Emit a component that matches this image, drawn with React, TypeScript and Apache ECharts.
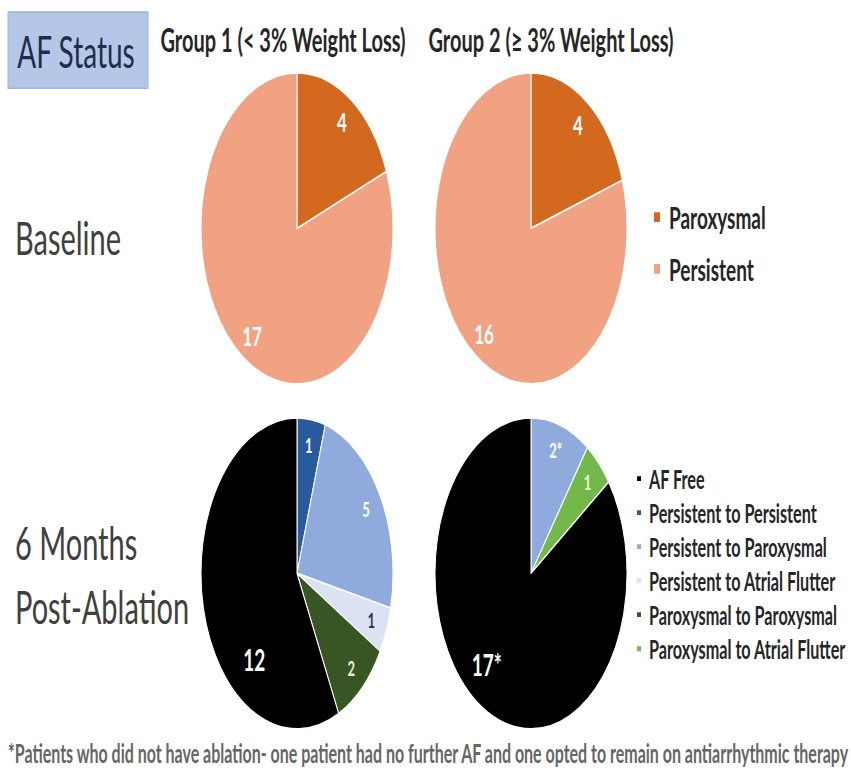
import React, { useEffect, useRef } from "react";
import * as echarts from "echarts";

// Baseline AF type per group
const afStatus = ["Paroxysmal", "Persistent"];
const afStatusColors = ["#d2691f", "#f0a283"];
const baselineGroup1 = [4, 17];
const baselineGroup2 = [4, 16];

// Outcome 6 months after ablation
const outcomes = [
  "AF Free",
  "Persistent to Persistent",
  "Persistent to Paroxysmal",
  "Persistent to Atrial Flutter",
  "Paroxysmal to Paroxysmal",
  "Paroxysmal to Atrial Flutter",
];
const outcomeColors = ["#000000", "#2a5a9e", "#8faadc", "#dbe3f3", "#375623", "#72b84a"];
const outcomeLabelColors = ["#ffffff", "#ffffff", "#ffffff", "#1f3864", "#e8f0dc", "#f4f4dc"];
const followUpGroup1 = [12, 1, 5, 1, 2, 0];
const followUpGroup2 = [17, 0, 2, 0, 0, 1];
const followUpGroup2Notes = ["*", "", "*", "", "", ""];
// slices run clockwise from 12 o'clock, AF Free last
const sliceOrder = [1, 2, 3, 4, 5, 0];
// nudges for the AF Free labels in the two lower pies
const afFreeLabelShift = [
  [35, 35],
  [-8, -15],
];

const groupTitles = ["Group 1 (< 3% Weight Loss)", "Group 2 (\u2265 3% Weight Loss)"];
const footnote =
  "*Patients who did not have ablation- one patient had no further AF and one opted to remain on antiarrhythmic therapy";

const W = 851;
const H = 476;
const SCALE_Y = 771 / H;
const FONT = 'Lato, "Open Sans", sans-serif';
const R = 96;
const COL_X = [297, 531];
const ROW_Y = [141, 354];

type Slice = { name: string; value: number; color: string; labelColor: string; fontSize: number; note: string };

function baselineSlices(values: number[]): Slice[] {
  return values.map((v, i) => ({
    name: afStatus[i],
    value: v,
    color: afStatusColors[i],
    labelColor: "#ffffff",
    fontSize: 17,
    note: "",
  }));
}

function followUpSlices(values: number[], notes?: string[]): Slice[] {
  return sliceOrder
    .filter((i) => values[i] > 0)
    .map((i) => ({
      name: outcomes[i],
      value: values[i],
      color: outcomeColors[i],
      labelColor: outcomeLabelColors[i],
      fontSize: i === 0 ? 19 : 13,
      note: notes ? notes[i] : "",
    }));
}

function pieSeries(slices: Slice[], center: number[], shiftName?: string, shift?: number[]) {
  const fill = {
    type: "pie",
    center,
    radius: R,
    startAngle: 90,
    clockwise: true,
    silent: true,
    label: { show: false },
    labelLine: { show: false },
    itemStyle: { borderColor: "#ffffff", borderWidth: 1 },
    data: slices.map((s) => ({ name: s.name, value: s.value, itemStyle: { color: s.color } })),
  };
  // transparent ring that carries the value labels at ~0.8 of the radius
  const labels: any = {
    type: "pie",
    center,
    radius: [R * 0.6, R],
    startAngle: 90,
    clockwise: true,
    silent: true,
    labelLine: { show: false },
    itemStyle: { color: "rgba(0,0,0,0)", borderWidth: 0 },
    data: slices.map((s) => ({
      name: s.name,
      value: s.value,
      itemStyle: { color: "rgba(0,0,0,0)" },
      label: {
        show: true,
        position: "inside",
        formatter: `${s.value}${s.note}`,
        color: s.labelColor,
        fontFamily: FONT,
        fontWeight: "bold",
        fontSize: s.fontSize,
      },
    })),
  };
  if (shiftName && shift) {
    const idx = slices.findIndex((s) => s.name === shiftName);
    labels.labelLayout = (p: any) => (p.dataIndex === idx ? { dx: shift[0], dy: shift[1] } : {});
  }
  return [fill, labels];
}

function buildOption() {
  const pies = [
    pieSeries(baselineSlices(baselineGroup1), [COL_X[0], ROW_Y[0]]),
    pieSeries(baselineSlices(baselineGroup2), [COL_X[1], ROW_Y[0]]),
    pieSeries(followUpSlices(followUpGroup1), [COL_X[0], ROW_Y[1]], outcomes[0], afFreeLabelShift[0]),
    pieSeries(followUpSlices(followUpGroup2, followUpGroup2Notes), [COL_X[1], ROW_Y[1]], outcomes[0], afFreeLabelShift[1]),
  ].flat();

  return {
    animation: false,
    backgroundColor: "#ffffff",
    legend: [
      {
        orient: "vertical",
        left: 652,
        top: 124,
        padding: 0,
        itemWidth: 8,
        itemHeight: 8,
        itemGap: 12,
        icon: "rect",
        selectedMode: false,
        data: afStatus.map((n, i) => ({ name: n, itemStyle: { color: afStatusColors[i] } })),
        textStyle: { fontFamily: FONT, fontSize: 19, fontWeight: "bold", color: "#262626", lineHeight: 20, padding: [0, 0, 0, 3] },
      },
      {
        orient: "vertical",
        left: 635,
        top: 287,
        padding: 0,
        itemWidth: 6,
        itemHeight: 5,
        itemGap: 4,
        icon: "rect",
        selectedMode: false,
        data: outcomes.map((n, i) => ({ name: n, itemStyle: { color: outcomeColors[i] } })),
        textStyle: { fontFamily: FONT, fontSize: 16.2, fontWeight: "bold", color: "#262626", lineHeight: 17, padding: [0, 0, 0, 2] },
      },
    ],
    graphic: [
      {
        type: "rect",
        shape: { x: 8, y: 7.5, width: 140, height: 47 },
        style: { fill: "#b4c7e7", stroke: "#9fb6dc", lineWidth: 1 },
      },
      {
        type: "text",
        x: 76,
        y: 31,
        style: { text: "AF Status", fontFamily: FONT, fontSize: 28, fill: "#1f2d4d", align: "center", verticalAlign: "middle" },
      },
      {
        type: "text",
        x: 283,
        y: 24.5,
        style: { text: groupTitles[0], fontFamily: FONT, fontSize: 20, fontWeight: "bold", fill: "#262626", align: "center", verticalAlign: "middle" },
      },
      {
        type: "text",
        x: 551,
        y: 24.5,
        style: { text: groupTitles[1], fontFamily: FONT, fontSize: 20, fontWeight: "bold", fill: "#262626", align: "center", verticalAlign: "middle" },
      },
      {
        type: "text",
        x: 15,
        y: 146,
        style: { text: "Baseline", fontFamily: FONT, fontSize: 29, fill: "#404040", align: "left", verticalAlign: "middle" },
      },
      {
        type: "text",
        x: 15,
        y: 334.5,
        style: { text: "6 Months", fontFamily: FONT, fontSize: 29, fill: "#404040", align: "left", verticalAlign: "middle" },
      },
      {
        type: "text",
        x: 15,
        y: 373.5,
        style: { text: "Post-Ablation", fontFamily: FONT, fontSize: 29, fill: "#404040", align: "left", verticalAlign: "middle" },
      },
      {
        type: "text",
        x: 8,
        y: 465,
        style: { text: footnote, fontFamily: FONT, fontSize: 16, fontWeight: "bold", fill: "#666666", align: "left", verticalAlign: "middle" },
      },
    ],
    series: pies,
  };
}

export default function App() {
  const ref = useRef<HTMLDivElement>(null);
  useEffect(() => {
    document.body.style.margin = "0";
    const chart = echarts.init(ref.current!, null, { renderer: "svg" });
    chart.setOption(buildOption() as any);
    return () => chart.dispose();
  }, []);
  return (
    <div
      ref={ref}
      style={{
        position: "absolute",
        left: 0,
        top: 0,
        width: W,
        height: H,
        transform: `scaleY(${SCALE_Y})`,
        transformOrigin: "0 0",
      }}
    />
  );
}
